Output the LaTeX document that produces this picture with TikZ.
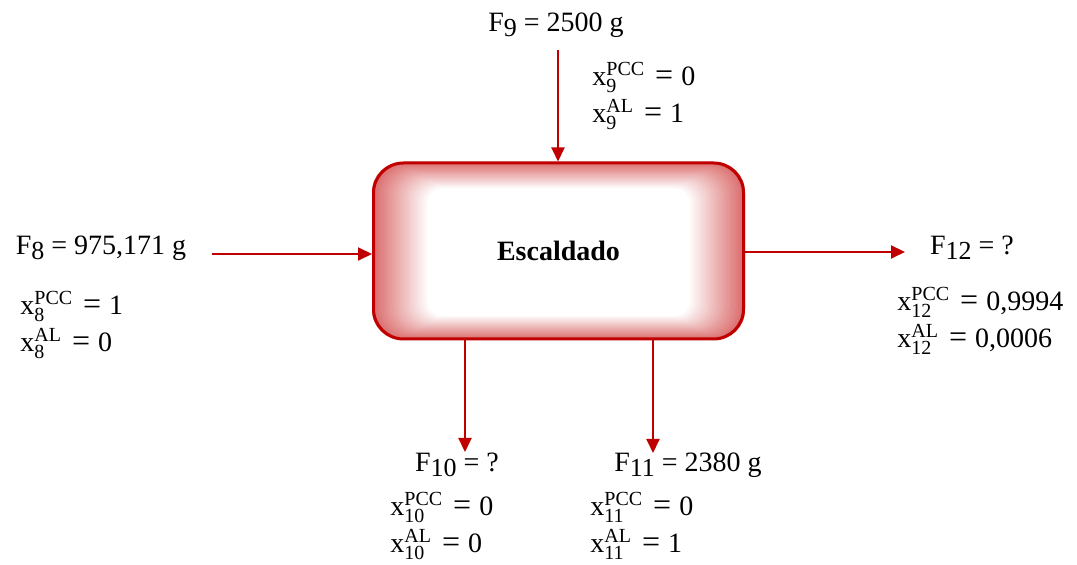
\documentclass[tikz,border=0pt]{standalone}
\usepackage{fontspec}
\setmainfont{Liberation Serif}
\usetikzlibrary{arrows.meta}
\definecolor{escred}{HTML}{C00000}
\newcommand{\ArrTip}{Triangle[length=7,width=6.5]}
\newcommand{\Fl}[2]{F\raisebox{-.4ex}{\fontsize{13}{13}\selectfont#1} = #2}
\newcommand{\xf}[3]{x$_{\mbox{\fontsize{10}{10}\selectfont#1}}^{\mbox{\fontsize{10}{10}\selectfont#2}}$\hspace{5pt}{\fontsize{16}{16}\selectfont=}\hspace{4pt}#3}
\tikzset{flow/.style={draw=escred,line width=1pt,-{\ArrTip}},lbl/.style={font=\fontsize{14}{16}\selectfont,inner sep=0},frac/.style={font=\fontsize{14}{18.5}\selectfont,align=left,inner sep=0,anchor=west}}

\begin{document}
\begin{tikzpicture}[x=.5pt,y=-.5pt]
\useasboundingbox(0,0)rectangle(1077,565);
\foreach \i in {0,...,24}{\pgfmathsetmacro\c{58*(1-\i/24)}\pgfmathsetmacro\r{15-.3*\i}\fill[escred!\c!white,rounded corners=\r pt](372+2.3*\i,162+1.1*\i)rectangle(745-2.3*\i,340-1*\i);}
\node[draw=escred,line width=1.5pt,rounded corners=15pt,minimum width=185pt,minimum height=88pt,font=\bfseries\fontsize{14}{16}\selectfont](esc)at(558.5,251){Escaldado};
\coordinate(in9)at(558,50);\coordinate(in8)at(212,254);\coordinate(out12)at(905,252);\coordinate(out10)at(465,452);\coordinate(out11)at(653,453);
\draw[flow](in9)--(in9|-esc.north);\draw[flow](in8)--(in8-|esc.west);\draw[flow](out12-|esc.east)--(out12);
\draw[flow](out10|-esc.south)--(out10);\draw[flow](out11|-esc.south)--(out11);
\node[lbl](f9)at(556,25){\Fl{9}{2500 g}};\node[frac](x9)at(592,96){\xf{9}{PCC}{0}\\\xf{9}{AL}{1}};
\node[lbl](f8)at(101,248){\Fl{8}{975,171 g}};\node[frac](x8)at(20,325){\xf{8}{PCC}{1}\\\xf{8}{AL}{0}};
\node[lbl](f12)at(972,248){\Fl{12}{?}};\node[frac](x12)at(897,321){\xf{12}{PCC}{0,9994}\\\xf{12}{AL}{0,0006}};
\node[lbl](f10)at(457,465){\Fl{10}{?}};\node[frac](x10)at(390,526){\xf{10}{PCC}{0}\\\xf{10}{AL}{0}};
\node[lbl](f11)at(688,465){\Fl{11}{2380 g}};\node[frac](x11)at(590,526){\xf{11}{PCC}{0}\\\xf{11}{AL}{1}};
\end{tikzpicture}
\end{document}
